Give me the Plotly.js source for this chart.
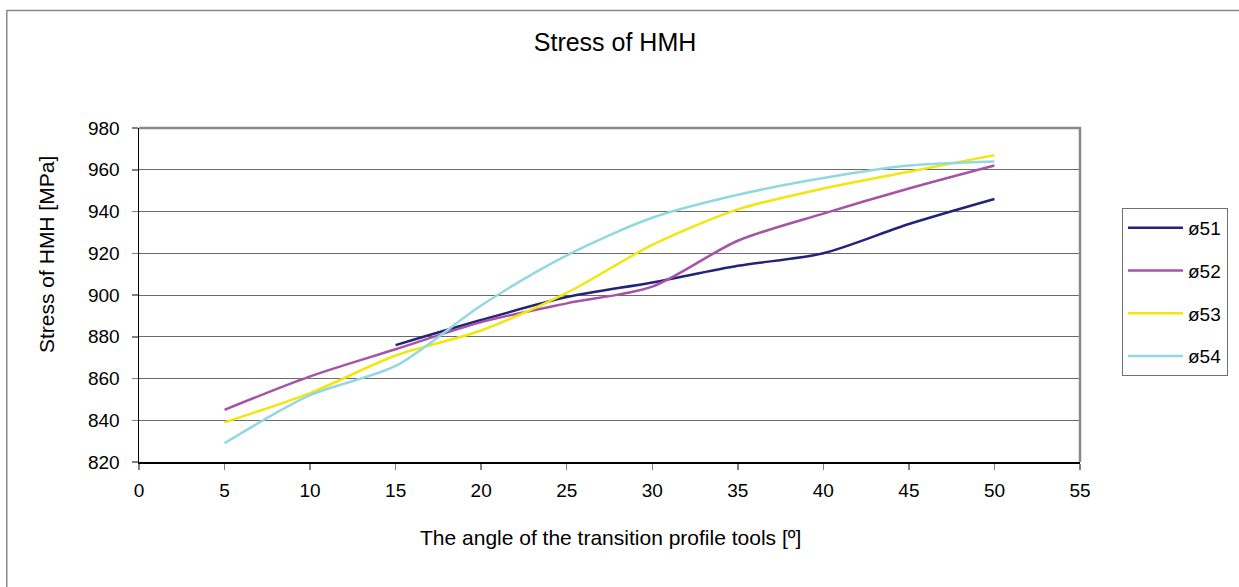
<!DOCTYPE html>
<html>
<head>
<meta charset="utf-8">
<script src="https://cdn.plot.ly/plotly-3.0.1.min.js"></script>
<style>html,body{margin:0;padding:0;background:#fff;}#chart{width:1239px;height:587px;}</style>
</head>
<body>
<div id="chart"></div>
<script>
const angles = [5, 10, 15, 20, 25, 30, 35, 40, 45, 50];
const anglesD51 = [15, 20, 25, 30, 35, 40, 45, 50];
const d51 = [876, 888, 899, 906, 914, 920, 934, 946];
const d52 = [845, 861, 874, 887, 896, 904, 926, 939, 951, 962];
const d53 = [839, 853, 871, 883, 901, 924, 941, 951, 959, 967];
const d54 = [829, 852, 866, 895, 919, 937, 948, 956, 962, 964];
const seriesNames = ["ø51", "ø52", "ø53", "ø54"];
const xTicks = [0, 5, 10, 15, 20, 25, 30, 35, 40, 45, 50, 55];
const yTicks = [820, 840, 860, 880, 900, 920, 940, 960, 980];
const chartTitle = "Stress of HMH";
const xTitle = "The angle of the transition profile tools [º]";
const yTitle = "Stress of HMH [MPa]";

const colors = ["#232378", "#a653a6", "#f2e60c", "#92d8e2"];
const xs = [anglesD51, angles, angles, angles];
const ys = [d51, d52, d53, d54];

const traces = seriesNames.map((n, i) => ({
  type: "scatter", mode: "lines", name: n, x: xs[i], y: ys[i],
  line: {color: colors[i], width: 2.5, shape: "spline", smoothing: 0.8},
  legendgroup: "g" + i
}));

const fam = "Liberation Sans, Arial, sans-serif";
const font = {family: fam, color: "#000", size: 19};

const layout = {
  width: 1239, height: 587,
  margin: {l: 139, r: 158, t: 128, b: 125},
  paper_bgcolor: "#fff", plot_bgcolor: "#fff",
  font: font,
  title: {text: chartTitle, font: {size: 25, family: fam, color: "#000"}, x: 0.4964, xanchor: "center", y: 0.928, yanchor: "middle"},
  xaxis: {
    range: [0, 55], tickvals: xTicks, ticktext: xTicks.map(String),
    showgrid: false, zeroline: false, showline: true, linecolor: "#000", linewidth: 1.5,
    ticks: "outside", ticklen: 6, tickcolor: "#808080", tickwidth: 1.5,
    tickfont: {size: 19}, ticklabelstandoff: 5, fixedrange: true
  },
  yaxis: {
    range: [820, 980], tickvals: yTicks, ticktext: yTicks.map(String),
    showgrid: true, gridcolor: "#6a6a6a", gridwidth: 1,
    zeroline: false, showline: true, linecolor: "#000", linewidth: 1.5,
    ticks: "outside", ticklen: 6, tickcolor: "#808080", tickwidth: 1.5,
    tickfont: {size: 19}, ticklabelstandoff: 8, fixedrange: true
  },
  annotations: [
    {text: xTitle, xref: "paper", yref: "paper", x: 0.501, y: -0.2275, xanchor: "center", yanchor: "middle", showarrow: false, font: {size: 21, family: fam, color: "#000"}},
    {text: yTitle, xref: "paper", yref: "paper", x: -0.0977, y: 0.62, xanchor: "center", yanchor: "middle", textangle: -90, showarrow: false, font: {size: 21, family: fam, color: "#000"}}
  ],
  legend: {
    x: 1.0435, xanchor: "left", y: 0.7605, yanchor: "top",
    bordercolor: "#707070", borderwidth: 1, bgcolor: "#fff",
    font: {size: 19}, traceorder: "grouped", tracegroupgap: 15,
    itemwidth: 55
  },
  shapes: [
    {type: "path", xref: "paper", yref: "paper", path: "M0,1 L1,1 L1,0", line: {color: "#8a8a8a", width: 2.5}},
    {type: "rect", xref: "paper", yref: "paper", x0: -0.1405, x1: 1.3, y0: -0.6, y1: 1.352, line: {color: "#8a8a8a", width: 1.5}, layer: "below"}
  ],
  showlegend: true
};

Plotly.newPlot("chart", traces, layout, {displayModeBar: false, staticPlot: true});
</script>
</body>
</html>
